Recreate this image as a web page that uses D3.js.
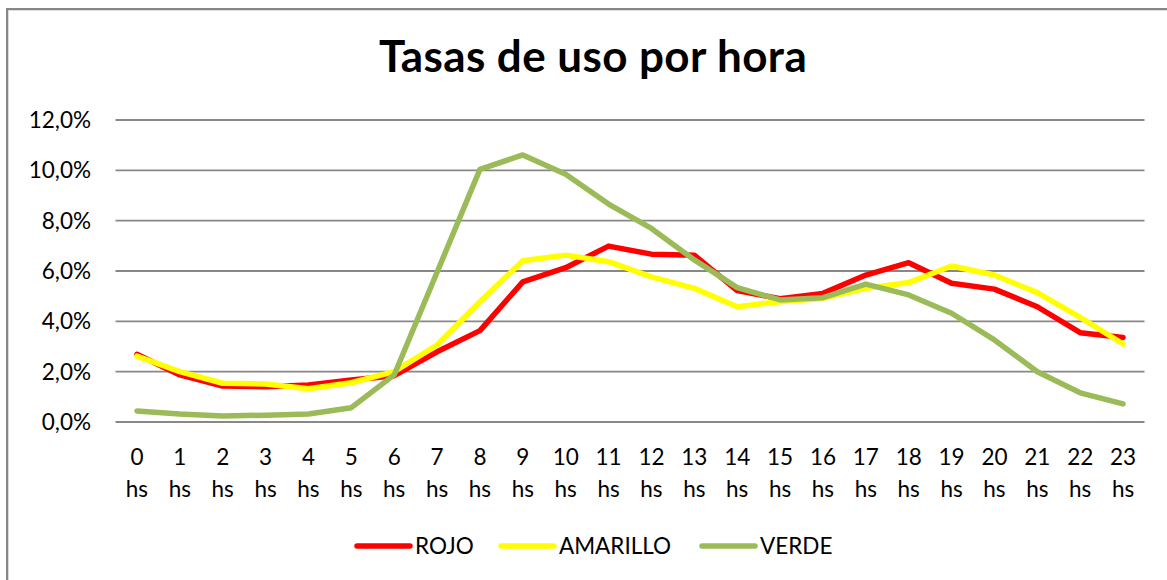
<!DOCTYPE html>
<html>
<head>
<meta charset="utf-8">
<script src="https://cdn.jsdelivr.net/npm/d3@7"></script>
<style>
  body { margin: 0; background: #fff; }
  svg { display: block; font-family: Lato, "Open Sans", sans-serif; }
</style>
</head>
<body>
<div id="chart"></div>
<script>
// hours on the x axis
const hours = ["0","1","2","3","4","5","6","7","8","9","10","11","12","13","14","15","16","17","18","19","20","21","22","23"];

// usage rates per hour (fraction)
const rojo = [0.0269,0.0187,0.0143,0.0140,0.0147,0.0167,0.0184,0.0279,0.0363,0.0557,0.0613,0.0699,0.0667,0.0663,0.0522,0.0490,0.0511,0.0584,0.0633,0.0551,0.0528,0.0458,0.0355,0.0336];
const amarillo = [0.0262,0.0200,0.0154,0.0151,0.0132,0.0156,0.0200,0.0306,0.0478,0.0641,0.0663,0.0637,0.0577,0.0531,0.0458,0.0478,0.0491,0.0531,0.0554,0.0620,0.0584,0.0514,0.0416,0.0310];
const verde = [0.0044,0.0032,0.0024,0.0027,0.0032,0.0057,0.0187,0.0595,0.1004,0.1061,0.0984,0.0866,0.0769,0.0644,0.0534,0.0485,0.0494,0.0548,0.0505,0.0432,0.0326,0.0200,0.0116,0.0072];

const yTicks = [0,0.02,0.04,0.06,0.08,0.10,0.12];

const series = [
  {name: "ROJO", values: rojo, color: "#ff0000"},
  {name: "AMARILLO", values: amarillo, color: "#ffff00"},
  {name: "VERDE", values: verde, color: "#9bbb59"}
];

const width = 1167, height = 580;
const svg = d3.select("#chart").append("svg")
  .attr("width", width).attr("height", height);

// chart frame (right and bottom edges fall outside the picture)
svg.append("rect")
  .attr("x", 7).attr("y", 9).attr("width", 1200).attr("height", 600)
  .attr("fill", "#fff").attr("stroke", "#878787").attr("stroke-width", 2);
svg.append("rect")
  .attr("x", 8.5).attr("y", 10.5).attr("width", 1200).attr("height", 600)
  .attr("fill", "none").attr("stroke", "#dcdcdc").attr("stroke-width", 1);

svg.append("text")
  .attr("x", 593).attr("y", 72)
  .attr("text-anchor", "middle")
  .attr("font-weight", "bold").attr("font-size", 44)
  .attr("letter-spacing", 0.4)
  .text("Tasas de uso por hora");

const x = d3.scaleBand().domain(hours).range([115.5, 1144.5]);
const y = d3.scaleLinear().domain([0, 0.12]).range([422, 120]);

const locale = d3.formatLocale({decimal: ",", thousands: ".", grouping: [3], currency: ["", "€"]});
const pct = locale.format(".1%");

// horizontal gridlines
svg.append("g").selectAll("line")
  .data(yTicks).join("line")
  .attr("x1", x.range()[0]).attr("x2", x.range()[1])
  .attr("y1", d => y(d)).attr("y2", d => y(d))
  .attr("stroke", "#888").attr("stroke-width", 1.8);

// y labels
svg.append("g").selectAll("text")
  .data(yTicks).join("text")
  .attr("x", 91).attr("y", d => y(d) + 8)
  .attr("text-anchor", "end").attr("font-size", 22.5)
  .text(d => pct(d));

// x labels, two lines each
const xl = svg.append("g").selectAll("text")
  .data(hours).join("text")
  .attr("text-anchor", "middle").attr("font-size", 22.5)
  .attr("x", d => x(d) + x.bandwidth() / 2);
xl.append("tspan").attr("x", d => x(d) + x.bandwidth() / 2).attr("y", 465).text(d => d);
xl.append("tspan").attr("x", d => x(d) + x.bandwidth() / 2).attr("y", 497).text("hs");

const line = d3.line()
  .x((d, i) => x(hours[i]) + x.bandwidth() / 2)
  .y(d => y(d));

svg.append("g").selectAll("path")
  .data(series).join("path")
  .attr("d", d => line(d.values))
  .attr("fill", "none")
  .attr("stroke", d => d.color)
  .attr("stroke-width", 5.5)
  .attr("stroke-linejoin", "round")
  .attr("stroke-linecap", "round");

// legend
const legendX = [357, 501, 702];
const leg = svg.append("g").selectAll("g")
  .data(series).join("g")
  .attr("transform", (d, i) => `translate(${legendX[i]},546)`);
leg.append("line")
  .attr("x1", 0).attr("x2", 53).attr("y1", 0).attr("y2", 0)
  .attr("stroke", d => d.color).attr("stroke-width", 5.5)
  .attr("stroke-linecap", "round");
leg.append("text")
  .attr("x", 58).attr("y", 8).attr("font-size", 22.5)
  .text(d => d.name);
</script>
</body>
</html>
